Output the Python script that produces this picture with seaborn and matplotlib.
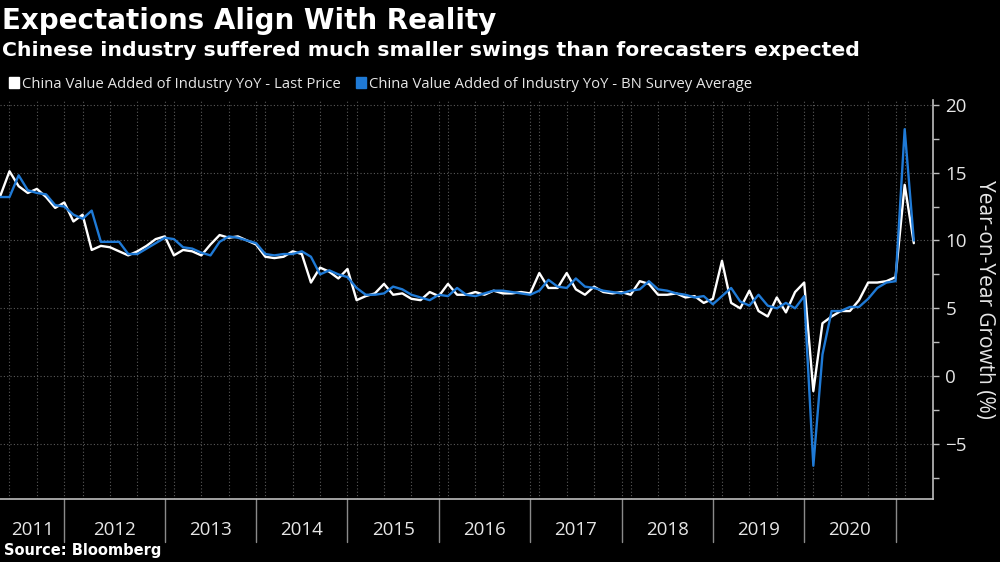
import numpy as np
import pandas as pd
import matplotlib
matplotlib.use("Agg")
import matplotlib.pyplot as plt
import matplotlib.transforms as mtransforms
from matplotlib.patches import Patch
import seaborn as sns

# ---------------- data ----------------
years = [2011, 2012, 2013, 2014, 2015, 2016, 2017, 2018, 2019, 2020, 2021]
first_month = [3, 2, 3, 3, 3, 3, 3, 3, 3, 3, 3]
last_month = [12, 12, 12, 12, 12, 12, 12, 12, 12, 12, 4]

actual = [
    14.8, 13.4, 13.3, 15.1, 14.0, 13.5, 13.8, 13.2, 12.4, 12.8,          # 2011
    11.4, 11.9, 9.3, 9.6, 9.5, 9.2, 8.9, 9.2, 9.6, 10.1, 10.3,           # 2012
    8.9, 9.3, 9.2, 8.9, 9.7, 10.4, 10.2, 10.3, 10.0, 9.7,                # 2013
    8.8, 8.7, 8.8, 9.2, 9.0, 6.9, 8.0, 7.7, 7.2, 7.9,                    # 2014
    5.6, 5.9, 6.1, 6.8, 6.0, 6.1, 5.7, 5.6, 6.2, 5.9,                    # 2015
    6.8, 6.0, 6.0, 6.2, 6.0, 6.3, 6.1, 6.1, 6.2, 6.1,                    # 2016
    7.6, 6.5, 6.5, 7.6, 6.4, 6.0, 6.6, 6.2, 6.1, 6.2,                    # 2017
    6.0, 7.0, 6.8, 6.0, 6.0, 6.1, 5.8, 5.9, 5.4, 5.7,                    # 2018
    8.5, 5.4, 5.0, 6.3, 4.8, 4.4, 5.8, 4.7, 6.2, 6.9,                    # 2019
    -1.1, 3.9, 4.4, 4.8, 4.8, 5.6, 6.9, 6.9, 7.0, 7.3,                   # 2020
    14.1, 9.8,                                                           # 2021
]
survey = [
    14.0, 13.3, 13.2, 13.2, 14.8, 13.7, 13.5, 13.4, 12.6, 12.5,          # 2011
    11.9, 11.6, 12.2, 9.9, 9.9, 9.9, 9.0, 9.0, 9.4, 9.8, 10.2,           # 2012
    10.1, 9.5, 9.4, 9.1, 8.9, 9.9, 10.3, 10.2, 10.0, 9.8,                # 2013
    9.0, 8.9, 9.0, 9.0, 9.2, 8.8, 7.5, 7.8, 7.5, 7.3,                    # 2014
    6.5, 6.0, 6.0, 6.1, 6.6, 6.4, 6.0, 5.8, 5.6, 6.0,                    # 2015
    5.9, 6.5, 6.0, 5.9, 6.1, 6.3, 6.3, 6.2, 6.1, 6.0,                    # 2016
    6.3, 7.1, 6.6, 6.5, 7.2, 6.6, 6.5, 6.3, 6.2, 6.1,                    # 2017
    6.3, 6.4, 7.0, 6.4, 6.3, 6.1, 6.0, 5.8, 5.9, 5.3,                    # 2018
    5.9, 6.5, 5.5, 5.2, 6.0, 5.2, 5.0, 5.4, 5.0, 5.9,                    # 2019
    -6.6, 1.6, 4.8, 4.8, 5.1, 5.1, 5.7, 6.5, 6.9, 7.0,                   # 2020
    18.2, 10.0,                                                          # 2021
]
series_names = ["China Value Added of Industry YoY - Last Price",
                "China Value Added of Industry YoY - BN Survey Average"]
y_ticks = [-5, 0, 5, 10, 15, 20]

# ---------------- build frame ----------------
periods = [pd.Period(f"{y}-{m:02d}", "M")
           for y, f, l in zip(years, first_month, last_month)
           for m in range(f, l + 1)]
obs = np.arange(len(periods))
df = pd.DataFrame({
    "obs": np.concatenate([obs, obs]),
    "value": actual + survey,
    "series": [series_names[0]] * len(obs) + [series_names[1]] * len(obs),
})
months = np.array([p.month for p in periods])
pyears = np.array([p.year for p in periods])

WHITE = "#ffffff"
BLUE = "#1f7ad6"
GRID = "#5a5a5a"
AXC = "#bdbdbd"

sns.set_style("dark")
plt.rcParams["font.family"] = ["Open Sans", "DejaVu Sans"]
plt.rcParams["figure.facecolor"] = "black"
plt.rcParams["axes.facecolor"] = "black"

fig = plt.figure(figsize=(10, 5.62), dpi=100)
ax = fig.add_axes([0.0, 63 / 562, 0.933, 399 / 562])
ax.set_facecolor("black")

sns.lineplot(data=df, x="obs", y="value", hue="series",
             palette={series_names[0]: WHITE, series_names[1]: BLUE},
             linewidth=1.7, legend=False, ax=ax, sort=False)

x_left, x_right = 1.96, 104.1

# grid
for xq in obs[np.isin(months, [3, 6, 9, 12])]:
    ax.axvline(xq, color=GRID, ls=(0, (1, 2)), lw=0.8, zorder=0)
for yv in y_ticks:
    ax.axhline(yv, color=GRID, ls=(0, (1, 2)), lw=0.8, zorder=0)

# spines
for s in ["left", "top"]:
    ax.spines[s].set_visible(False)
for s in ["right", "bottom"]:
    ax.spines[s].set_color(AXC)
    ax.spines[s].set_linewidth(1.2)

# y axis on right
ax.yaxis.tick_right()
ax.yaxis.set_label_position("right")
ax.set_yticks(y_ticks)
ax.set_yticks(np.arange(-7.5, 20, 5), minor=True)
ax.tick_params(axis="y", which="both", colors=AXC, labelcolor="#e6e6e6",
               labelsize=13.5, length=4, width=1, pad=5, direction="out")
ax.set_ylabel("Year-on-Year Growth (%)", rotation=270, color="#e6e6e6",
              fontsize=15, labelpad=20)

# x axis: minor ticks per observation, year separators and labels
ax.set_xticks([])
ax.set_xticks(obs, minor=True)
ax.tick_params(axis="x", which="minor", colors=AXC, length=3, width=0.8,
               direction="out")
ax.set_xlabel("")

# limits after ticks (setting ticks can widen the view)
ax.set_xlim(x_left, x_right)
ax.set_ylim(-9.05, 20.35)

trans = mtransforms.blended_transform_factory(ax.transData, ax.transAxes)
dec_idx = obs[months == 12]
for b in dec_idx:
    ax.plot([b, b], [0, -0.108], transform=trans, color="#8a8a8a", lw=1.0,
            clip_on=False)
bounds = [x_left] + list(dec_idx)
for yr, lft, rgt in zip(pyears[months == 12], bounds[:-1], bounds[1:]):
    ax.text((lft + rgt) / 2, -0.078, str(yr), transform=trans, ha="center",
            va="center", color="#e6e6e6", fontsize=13.5)
ax.set_xlim(x_left, x_right)

# titles
fig.text(0.002, 0.988, "Expectations Align With Reality", ha="left", va="top",
         color="white", fontsize=20, fontweight="bold", family="DejaVu Sans")
fig.text(0.002, 1 - 50 / 562,
         "Chinese industry suffered much smaller swings than forecasters expected",
         ha="left", va="center", color="white", fontsize=14.7,
         fontweight="bold", family="DejaVu Sans")
fig.text(0.004, 1 - 551 / 562, "Source: Bloomberg", ha="left", va="center",
         color="white", fontsize=10.5, fontweight="bold", family="DejaVu Sans")

# legend
handles = [Patch(facecolor=WHITE, edgecolor=WHITE),
           Patch(facecolor=BLUE, edgecolor=BLUE)]
fig.legend(handles, series_names, loc="center left",
           bbox_to_anchor=(0.0, 1 - 84 / 562), ncol=2, frameon=False,
           handlelength=0.7, handleheight=0.7, handletextpad=0.2,
           columnspacing=1.0, fontsize=10.7, labelcolor="#e6e6e6",
           borderaxespad=0.2)

fig.savefig("out.png", dpi=100, facecolor="black")
